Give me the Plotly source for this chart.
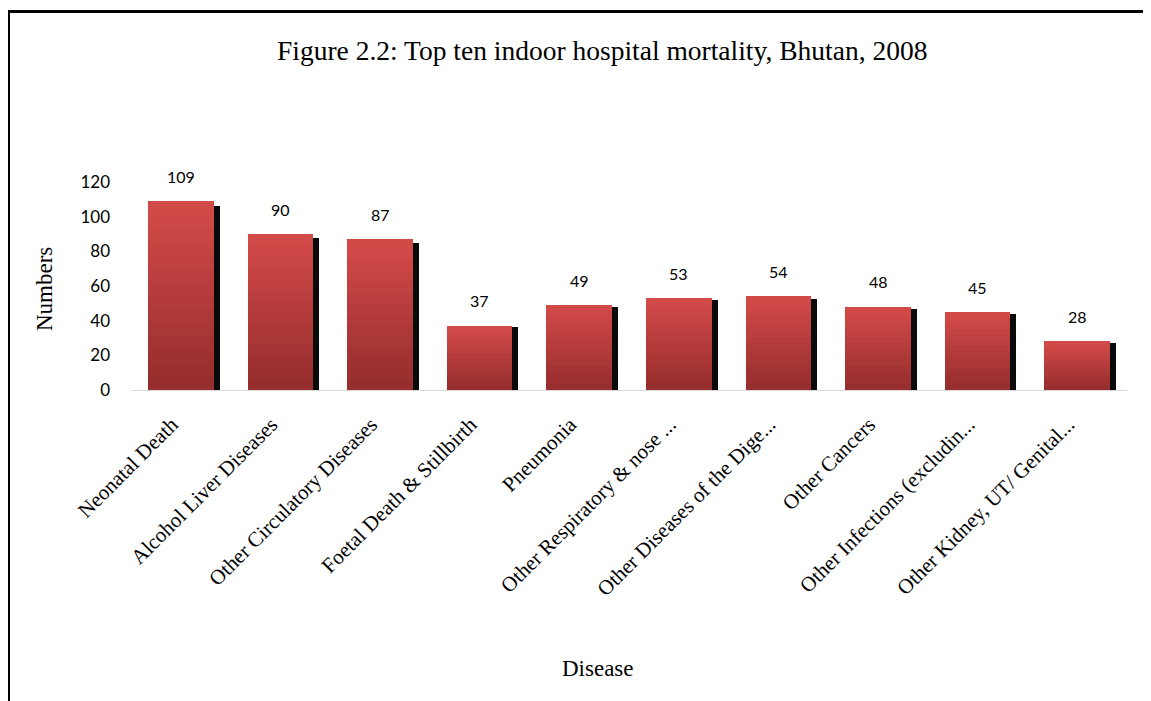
import plotly.graph_objects as go

categories = [
    "Neonatal Death",
    "Alcohol Liver Diseases",
    "Other Circulatory Diseases",
    "Foetal Death & Stillbirth",
    "Pneumonia",
    "Other Respiratory & nose ...",
    "Other Diseases of the Dige...",
    "Other Cancers",
    "Other Infections (excludin...",
    "Other Kidney, UT/ Genital...",
]
values = [109, 90, 87, 37, 49, 53, 54, 48, 45, 28]
y_ticks = [0, 20, 40, 60, 80, 100, 120]

title_text = "Figure 2.2: Top ten indoor hospital mortality, Bhutan, 2008"
y_title = "Numbers"
x_title = "Disease"

# page has an 8px body margin: figure origin sits at page (8, 8)
OFF = 8
W, H = 1151 - OFF, 701 - OFF
# plot area in page pixels: x 131..1127, y 182..390
L = 131 - OFF
T = 182 - OFF
R = W - (1127 - OFF)
B = H - (390 - OFF)
PW, PH = W - L - R, H - T - B


def px_x(x_page):
    return (x_page - OFF - L) / PW


def px_y(y_page):
    return (H - B - (y_page - OFF)) / PH


fig = go.Figure()

n = len(categories)
idx = list(range(n))
bar_w = 0.66
shadow_shift = 0.06

# shadow bars (black, slightly offset to the right)
fig.add_trace(go.Bar(
    x=idx, y=[v * 0.975 for v in values], width=bar_w,
    offset=-bar_w / 2 + shadow_shift,
    marker=dict(color="#0a0a0a", line=dict(width=0)),
    hoverinfo="skip", showlegend=False,
))

# gradient red bars: layered from full height (light) to shorter (darker)
top_c = (210, 74, 72)
bot_c = (150, 46, 45)
N = 14
for i in range(N):
    t = i / (N - 1)
    c = tuple(int(round(top_c[k] + (bot_c[k] - top_c[k]) * t)) for k in range(3))
    frac = (N - i) / N
    fig.add_trace(go.Bar(
        x=idx, y=[v * frac for v in values], width=bar_w,
        offset=-bar_w / 2,
        marker=dict(color="rgb(%d,%d,%d)" % c, line=dict(width=0)),
        hoverinfo="skip", showlegend=False,
    ))

annotations = []
for i, v in enumerate(values):
    annotations.append(dict(
        x=i, y=v, xref="x", yref="y", text=str(v), showarrow=False,
        yanchor="middle", yshift=25,
        font=dict(family="Lato, Open Sans, sans-serif", size=16, color="#000000"),
    ))

annotations.append(dict(
    x=px_x(602), y=px_y(50), xref="paper", yref="paper", text=title_text,
    showarrow=False, xanchor="center", yanchor="middle",
    font=dict(family="Liberation Serif, serif", size=27.5, color="#000000"),
))
annotations.append(dict(
    x=px_x(44), y=px_y(289), xref="paper", yref="paper", text=y_title,
    showarrow=False, xanchor="center", yanchor="middle", textangle=-90,
    font=dict(family="Liberation Serif, serif", size=23, color="#000000"),
))
annotations.append(dict(
    x=px_x(598), y=px_y(668), xref="paper", yref="paper", text=x_title,
    showarrow=False, xanchor="center", yanchor="middle",
    font=dict(family="Liberation Serif, serif", size=23, color="#000000"),
))

shapes = [
    dict(type="line", xref="paper", yref="paper",
         x0=px_x(8), x1=px_x(1160), y0=px_y(11.5), y1=px_y(11.5),
         line=dict(color="#000000", width=3)),
    dict(type="line", xref="paper", yref="paper",
         x0=px_x(9), x1=px_x(9), y0=px_y(11.5), y1=px_y(710),
         line=dict(color="#000000", width=2)),
]

fig.update_layout(
    width=W, height=H,
    margin=dict(l=L, r=R, t=T, b=B, autoexpand=False),
    paper_bgcolor="#ffffff", plot_bgcolor="#ffffff",
    barmode="overlay", bargap=0,
    showlegend=False,
    annotations=annotations,
    shapes=shapes,
    xaxis=dict(
        tickmode="array", tickvals=idx, ticktext=categories,
        range=[-0.5, n - 0.5], tickangle=-45,
        showline=True, linecolor="#d9d9d9", linewidth=1,
        showgrid=False, zeroline=False, ticks="",
        ticklabelshift=-9, ticklabelstandoff=13,
        tickfont=dict(family="Liberation Serif, serif", size=21, color="#000000"),
    ),
    yaxis=dict(
        range=[0, 120], tickmode="array", tickvals=y_ticks,
        showgrid=False, zeroline=False, showline=False, ticks="",
        ticklabelstandoff=20,
        tickfont=dict(family="Lato, Open Sans, sans-serif", size=17, color="#000000"),
    ),
)

fig.write_html("out.html")
